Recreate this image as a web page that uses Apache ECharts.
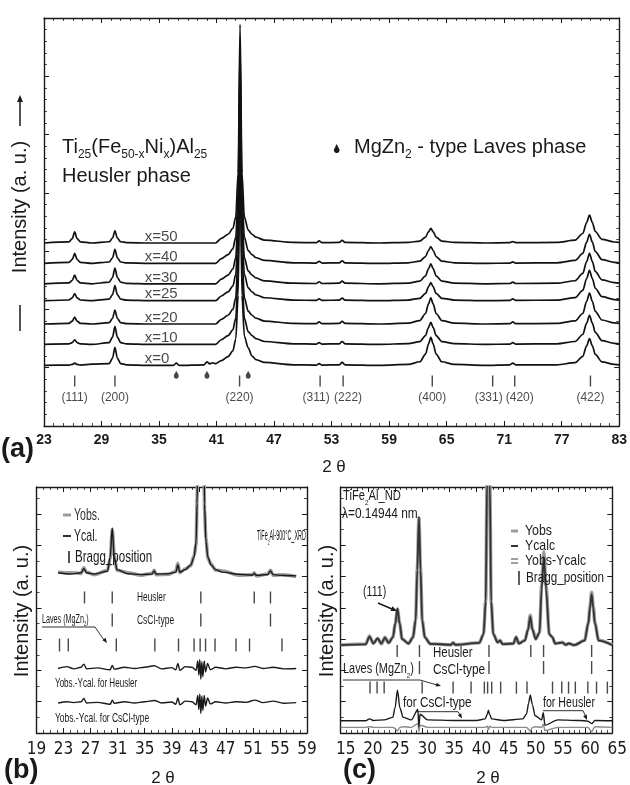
<!DOCTYPE html>
<html><head><meta charset="utf-8">
<script src="https://cdn.jsdelivr.net/npm/echarts@6/dist/echarts.min.js"></script>
<style>html,body{margin:0;padding:0;background:#fff}#c{width:630px;height:785px}</style>
</head><body><div id="c"></div><script>
// ---------- Panel (a): Ti25(Fe50-xNix)Al25 XRD patterns ----------
const twoThetaA = [23, 25.6, 25.95, 26.2, 26.45, 26.8, 28.0, 29.8, 30.15, 30.4, 30.65, 31.0, 31.6, 34.0,
  36.5, 36.8, 37.1, 39.7, 40.0, 40.3, 40.6, 40.9,
  41.5, 42.2, 42.7, 43.0, 43.25, 43.45, 43.65, 43.9, 44.3, 44.7, 45.1, 46.0, 49.0,
  51.4, 51.7, 52.0, 53.8, 54.1, 54.4, 58.0,
  61.0, 62.2, 62.8, 63.1, 63.35, 63.6, 63.9, 64.5, 65.8, 69.0, 71.6, 71.9, 72.2,
  76.5, 78.4, 79.2, 79.6, 79.9, 80.2, 80.5, 81.2, 82.5, 83];
const compositions = ['x=0', 'x=10', 'x=20', 'x=25', 'x=30', 'x=40', 'x=50'];
const offsetsA = [10.4, 14.0, 17.5, 21.5, 24.4, 27.9, 31.4];
const I_x0 = [0, 0.04,0.16,0.4,0.16,0.04, 0.2, 0.31,1.24,3.1,1.24,0.31,0.1, 0, 0,0.4,0, 0.1,0.6,0.25,0.45,0.3,
  0.8,1.5,2.5,4.5,12,37.5,12,5,3.0,1.6,1.0,0.5, 0.1, 0.05,0.3,0.05, 0.1,0.5,0.1, 0,
  0.17,0.62,1.92,3.65,4.8,3.65,1.92,0.62,0.17, 0, 0.1,0.4,0.1, 0.09,0.46,1.56,3.36,4.6,3.36,1.89,0.6,0.17,0.09];
const I_x10 = [0, 0.08,0.32,0.8,0.32,0.08, 0, 0.31,1.24,3.1,1.24,0.31,0.1, 0, 0,0,0, 0,0,0,0,0,
  0.8,1.5,2.5,4.5,12,37.5,12,4.5,2.2,1.5,1.0,0.5, 0.1, 0.05,0.3,0.05, 0.1,0.5,0.1, 0,
  0.13,0.49,1.52,2.89,3.8,2.89,1.52,0.49,0.13, 0, 0.05,0.3,0.05, 0.1,0.5,1.7,3.65,5.0,3.65,2.05,0.65,0.18,0.1];
const I_x20 = [0, 0.12,0.48,1.2,0.48,0.12, 0, 0.24,0.96,2.4,0.96,0.24,0.07, 0, 0,0,0, 0,0,0,0,0,
  0.8,1.5,2.5,4.5,12,37.5,12,4.5,2.2,1.5,1.0,0.5, 0.1, 0.05,0.35,0.05, 0.1,0.45,0.1, 0,
  0.16,0.59,1.8,3.42,4.5,3.42,1.8,0.59,0.16, 0, 0.05,0.35,0.05, 0.11,0.53,1.8,3.87,5.3,3.87,2.17,0.69,0.19,0.11];
const I_x25 = [0, 0.12,0.48,1.2,0.48,0.12, 0, 0.26,1.04,2.6,1.04,0.26,0.08, 0, 0,0,0, 0,0,0,0,0,
  0.8,1.5,2.5,4.5,12,37.5,12,4.5,2.2,1.5,1.0,0.5, 0.1, 0.05,0.3,0.05, 0.1,0.45,0.1, 0,
  0.11,0.4,1.24,2.36,3.1,2.36,1.24,0.4,0.11, 0, 0.05,0.3,0.05, 0.1,0.52,1.77,3.8,5.2,3.8,2.13,0.68,0.19,0.1];
const I_x30 = [0, 0.15,0.6,1.5,0.6,0.15, 0, 0.27,1.08,2.7,1.08,0.27,0.08, 0, 0,0,0, 0,0,0,0,0,
  0.8,1.5,2.5,4.5,12,37.5,12,4.5,2.2,1.5,1.0,0.5, 0.1, 0.05,0.35,0.05, 0.1,0.45,0.1, 0,
  0.12,0.44,1.36,2.58,3.4,2.58,1.36,0.44,0.12, 0, 0.05,0.3,0.05, 0.1,0.52,1.77,3.8,5.2,3.8,2.13,0.68,0.19,0.1];
const I_x40 = [0, 0.17,0.68,1.7,0.68,0.17, 0, 0.24,0.96,2.4,0.96,0.24,0.07, 0, 0,0,0, 0,0,0,0,0,
  0.8,1.5,2.5,4.5,12,37.5,12,4.5,2.2,1.5,1.0,0.5, 0.1, 0.05,0.35,0.05, 0.1,0.45,0.1, 0,
  0.1,0.38,1.16,2.2,2.9,2.2,1.16,0.38,0.1, 0, 0.05,0.25,0.05, 0.1,0.5,1.7,3.65,5.0,3.65,2.05,0.65,0.18,0.1];
const I_x50 = [0, 0.19,0.76,1.9,0.76,0.19, 0, 0.21,0.84,2.1,0.84,0.21,0.06, 0, 0,0,0, 0,0,0,0,0,
  0.8,1.5,2.5,4.5,12,37.5,12,4.5,2.2,1.5,1.0,0.5, 0.1, 0.05,0.35,0.05, 0.1,0.45,0.1, 0,
  0.09,0.33,1.0,1.9,2.5,1.9,1.0,0.33,0.09, 0, 0.05,0.25,0.05, 0.1,0.48,1.63,3.5,4.8,3.5,1.97,0.62,0.17,0.1];
const tracesA = [I_x0, I_x10, I_x20, I_x25, I_x30, I_x40, I_x50];
const hklNames = ['(111)', '(200)', '(220)', '(311)', '(222)', '(400)', '(331)', '(420)', '(422)'];
const hklPos = [26.2, 30.4, 43.4, 51.8, 54.2, 63.5, 69.8, 72.1, 80.0];
const lavesMarksA = [36.8, 40.0, 44.3];

// ---------- Panel (b): TiFe2Al-900°C XRD refinement ----------
const twoThetaB = [22.2, 24.0, 25.6, 26.0, 26.4, 27.5, 29.5, 29.9, 30.2, 30.5, 30.9, 32.5, 34.5, 36.1, 36.4, 36.7,
  38.5, 39.6, 39.9, 40.2, 41.0, 41.8, 42.3, 42.6, 42.75, 42.9, 43.3, 43.7, 43.85, 44.05, 44.35, 44.8, 45.5, 46.5,
  49.0, 50.9, 51.2, 51.5, 53.2, 53.6, 54.0, 55.5, 57.4];
const yCalB = [5.12, 5.08, 5.12, 5.25, 5.12, 5.08, 5.17, 5.62, 6.55, 5.62, 5.22, 5.09, 5.06, 5.08, 5.18, 5.08,
  5.09, 5.14, 5.37, 5.14, 5.22, 5.37, 5.62, 6.12, 7.32, 10.4, 25, 10.4, 7.32, 6.12, 5.62, 5.37, 5.22, 5.14,
  5.07, 5.04, 5.1, 5.04, 5.06, 5.18, 5.06, 5.03, 5.02];
const yObsB = [5.14, 5.12, 5.1, 5.28, 5.14, 5.06, 5.19, 5.58, 6.5, 5.66, 5.2, 5.12, 5.04, 5.1, 5.2, 5.06,
  5.07, 5.16, 5.42, 5.12, 5.24, 5.34, 5.66, 6.02, 7.52, 10.7, 26, 10.7, 7.12, 6.22, 5.58, 5.4, 5.2, 5.18,
  5.04, 5.06, 5.12, 5.02, 5.08, 5.2, 5.04, 5.06, 5.0];
const twoThetaBd = [22.2, 23.5, 24.5, 25.6, 26.0, 26.4, 28.0, 29.9, 30.2, 30.5, 32.0, 33.5, 35.0, 36.4, 37.5, 39.0,
  39.6, 39.9, 40.2, 41.0, 42.0, 42.6, 42.85, 43.0, 43.15, 43.3, 43.45, 43.6, 43.8, 44.0, 44.3, 44.7, 45.5,
  47.0, 48.5, 50.0, 51.3, 52.5, 54.0, 55.5, 57.4];
const diffHeuslerB = [2.06, 2.12, 2.05, 2.1, 2.2, 2.05, 2.08, 2.02, 2.16, 2.04, 2.1, 2.06, 2.1, 2.15, 2.05, 2.09,
  2.02, 2.22, 2.0, 2.12, 2.1, 2.0, 2.3, 1.85, 2.35, 1.72, 2.28, 1.8, 2.3, 1.95, 2.22, 2.02, 2.1,
  2.05, 2.1, 2.08, 2.13, 2.06, 2.1, 2.05, 2.06];
const diffCsClB = [0.96, 1.0, 0.97, 1.0, 1.1, 0.96, 0.98, 0.92, 1.05, 0.95, 1.0, 0.96, 1.0, 1.04, 0.96, 0.99,
  0.92, 1.12, 0.9, 1.02, 1.0, 0.9, 1.2, 0.75, 1.25, 0.62, 1.18, 0.72, 1.2, 0.86, 1.12, 0.93, 1.0,
  0.96, 1.0, 0.98, 1.05, 0.97, 1.02, 0.95, 0.97];
const braggHeuslerB = [26.1, 30.2, 43.3, 51.2, 53.6];
const braggCsClB = [30.2, 43.3, 53.6];
const braggLavesB = [22.4, 23.7, 30.8, 36.5, 40.0, 42.3, 43.2, 44.0, 45.4, 48.5, 50.5, 55.3];

// ---------- Panel (c): TiFe2Al neutron diffraction ----------
const twoThetaC = [15.0, 19.6, 20.3, 21.0, 21.8, 22.5, 23.15, 23.8, 24.6, 25.05, 25.45, 25.85, 26.3, 27.5, 28.3,
  28.8, 29.1, 29.4, 29.7, 30.0, 30.5, 31.5, 35.3, 35.7, 36.1, 40.5, 41.3, 41.7, 41.95, 42.2, 42.45, 42.7,
  43.1, 43.9, 44.35, 44.8, 46.8, 47.3, 47.8, 48.9, 49.5, 49.9, 50.3, 50.9, 51.6, 52.0, 52.4, 52.8, 53.4,
  53.95, 54.5, 55.8, 56.4, 57.0, 58.0, 59.9, 60.6, 60.9, 61.2, 61.5, 61.8, 62.5, 65.0];
const yCalcC = [2.81, 2.83, 3.08, 2.86, 3.02, 2.86, 3.05, 2.88, 3.05, 3.5, 3.98, 3.5, 3.0, 2.86, 3.05,
  3.6, 5.2, 6.9, 5.2, 3.6, 3.05, 2.85, 2.82, 2.88, 2.82, 2.88, 3.15, 4.2, 8.0, 18, 8.0, 4.2,
  3.15, 2.9, 2.95, 2.84, 2.86, 3.06, 2.86, 2.95, 3.3, 3.72, 3.3, 3.0, 3.2, 4.6, 5.63, 4.6, 3.15,
  3.06, 2.86, 2.89, 2.82, 2.86, 2.81, 2.95, 3.5, 4.0, 4.44, 4.0, 3.5, 2.95, 2.81];
const yObsC = [2.81, 2.84, 3.1, 2.86, 3.03, 2.85, 3.06, 2.88, 3.06, 3.48, 3.95, 3.52, 3.0, 2.86, 3.06,
  3.62, 5.25, 6.88, 5.25, 3.62, 3.06, 2.85, 2.82, 2.89, 2.82, 2.88, 3.16, 4.25, 8.1, 18, 8.05, 4.22,
  3.16, 2.9, 2.96, 2.84, 2.86, 3.07, 2.86, 2.96, 3.32, 3.76, 3.32, 3.0, 3.22, 4.72, 5.79, 4.7, 3.16,
  3.07, 2.86, 2.9, 2.82, 2.86, 2.81, 2.96, 3.52, 4.05, 4.5, 4.05, 3.52, 2.96, 2.81];
const twoThetaCd = [15.0, 19.6, 20.3, 21.0, 23.0, 24.6, 25.0, 25.45, 25.9, 26.5, 28.0, 29.2, 29.4, 29.6, 31.0,
  36.0, 40.0, 41.6, 42.0, 42.2, 42.4, 42.8, 45.0, 48.5, 49.2, 49.6, 49.9, 50.3, 50.8, 52.0, 52.3, 52.6,
  55.0, 58.5, 59.0, 60.5, 61.2, 61.8, 65.0];
const diffCsClC = [0.39, 0.39, 0.45, 0.40, 0.42, 0.5, 0.8, 1.37, 0.8, 0.5, 0.42, 0.75, 0.2, 0.6, 0.42,
  0.40, 0.40, 0.45, 0.6, 0.73, 0.6, 0.45, 0.40, 0.45, 0.6, 0.95, 1.21, 0.9, 0.55, 0.42, 0.65, 0.25,
  0.42, 0.40, 0.40, 0.38, 0.3, 0.40, 0.39];
const diffHeuslerC = [0.18, 0.18, 0.2, 0.18, 0.18, 0.18, 0.15, 0.06, 0.18, 0.2, 0.18, 0.3, 0.05, 0.25, 0.18,
  0.18, 0.18, 0.18, 0.22, 0.1, 0.22, 0.18, 0.18, 0.18, 0.18, 0.12, 0.05, 0.18, 0.2, 0.18, 0.28, 0.08,
  0.18, 0.18, 0.18, 0.18, 0.05, 0.2, 0.18];
const braggHeuslerC = [25.4, 29.5, 42.3, 50.0, 52.35, 61.2];
const braggCsClC = [29.5, 42.3, 52.35, 61.2];
const braggLavesC = [20.4, 21.7, 23.0, 30.0, 35.7, 39.0, 41.45, 42.05, 42.8, 44.45, 47.35, 49.3, 54.0, 55.7,
  56.95, 58.2, 60.5, 62.1, 64.1];

// ---------- build ----------
const SANS = '"Liberation Sans", Arial, sans-serif';
const NARROW = '"Liberation Sans Narrow", "DejaVu Sans Condensed", "Liberation Sans", sans-serif';
const INK = '#1a1a1a';
const zip = (xs, ys, off = 0) => xs.map((x, i) => [x, ys[i] + off]);

function xAx(grid, pos, min, max, interval, minor, label) {
  return {
    type: 'value', gridIndex: grid, position: pos, min, max, interval,
    axisLine: { show: true, onZero: false, lineStyle: { color: INK, width: 1.4 } },
    axisTick: { show: true, inside: true, length: 5, lineStyle: { color: INK, width: 1 } },
    minorTick: { show: true, splitNumber: minor, length: 3, lineStyle: { color: INK, width: 0.8 } },
    splitLine: { show: false }, minorSplitLine: { show: false },
    axisLabel: label ? Object.assign({ show: true, color: INK }, label) : { show: false }
  };
}
function yAx(grid, pos, min, max, interval, minor) {
  return {
    type: 'value', gridIndex: grid, position: pos, min, max, interval,
    axisLine: { show: true, onZero: false, lineStyle: { color: INK, width: 1.4 } },
    axisTick: { show: true, inside: true, length: 5, lineStyle: { color: INK, width: 1 } },
    minorTick: { show: true, splitNumber: minor, length: 3, lineStyle: { color: INK, width: 0.8 } },
    splitLine: { show: false }, minorSplitLine: { show: false },
    axisLabel: { show: false }
  };
}
function lineS(xi, yi, data, color, width) {
  return { type: 'line', xAxisIndex: xi, yAxisIndex: yi, data, symbol: 'none', showSymbol: false,
    smooth: 0.3, smoothMonotone: 'x', clip: true, silent: true, lineStyle: { color, width } };
}
function ticksS(xi, yi, xs, row, h) {
  return { type: 'scatter', xAxisIndex: xi, yAxisIndex: yi, symbol: 'rect', symbolSize: [1.4, h], silent: true,
    itemStyle: { color: INK }, data: xs.map(x => [x, row]) };
}

function txt(x, y, text, size, o = {}) {
  const style = { text, fill: o.color || INK, fontSize: size, fontFamily: o.family || SANS, fontWeight: o.weight || 'normal',
    align: o.align || 'left', textAlign: o.align || 'left', verticalAlign: 'middle', textVerticalAlign: 'middle' };
  if (o.rich) style.rich = o.rich;
  return { type: 'text', x, y, silent: true, z: 100, rotation: o.rot || 0, scaleX: o.sx || 1, scaleY: 1, style };
}
function richTxt(x, y, parts, size, o = {}) {
  const text = parts.map(([s, sub]) => '{' + (sub ? 's' : 'n') + '|' + s + '}').join('');
  const fam = o.family || SANS;
  const rich = {
    n: { fontSize: size, fontFamily: fam, fill: INK, verticalAlign: 'bottom', padding: [0, 0, Math.round(size * 0.2), 0] },
    s: { fontSize: Math.round(size * 0.58), fontFamily: fam, fill: INK, verticalAlign: 'bottom' }
  };
  return txt(x, y, text, size, Object.assign({}, o, { rich }));
}
function ln(x1, y1, x2, y2, w = 1.2, c = INK) {
  return { type: 'line', silent: true, z: 100, shape: { x1, y1, x2, y2 }, style: { stroke: c, lineWidth: w } };
}
function pl(points, w = 1, c = INK) {
  return { type: 'polyline', silent: true, z: 100, shape: { points }, style: { stroke: c, lineWidth: w, fill: null } };
}
function poly(points, c = INK) {
  return { type: 'polygon', silent: true, z: 100, shape: { points }, style: { fill: c } };
}
function head(x1, y1, x2, y2, len = 6, hw = 2.5, c = INK) {
  const dx = x2 - x1, dy = y2 - y1, L = Math.hypot(dx, dy), ux = dx / L, uy = dy / L;
  const bx = x2 - ux * len, by = y2 - uy * len;
  return poly([[x2, y2], [bx - uy * hw, by + ux * hw], [bx + uy * hw, by - ux * hw]], c);
}
const DROP = 'path://M5,0 C6,3 10,6 10,10 C10,13 8,15 5,15 C2,15 0,13 0,10 C0,6 4,3 5,0 Z';

const series = [];
// (a)
tracesA.forEach((tr, i) => series.push(lineS(0, 0, zip(twoThetaA, tr, offsetsA[i]), '#111', 1.7)));
series.push({ type: 'scatter', xAxisIndex: 0, yAxisIndex: 0, symbolSize: 0, silent: true,
  data: compositions.map((c, i) => [33.5, offsetsA[i] + 1.1]),
  label: { show: true, position: 'right', distance: 0, color: INK, fontSize: 15, fontFamily: SANS,
    formatter: p => compositions[p.dataIndex] } });
const hklShift = [0, 0, 0, -4, 5, 0, -4, 5, 0];
series.push({ type: 'scatter', xAxisIndex: 0, yAxisIndex: 0, symbol: 'rect', symbolSize: [1.4, 11], silent: true,
  itemStyle: { color: INK },
  data: hklPos.map((x, i) => ({ value: [x, 7.72], label: { offset: [hklShift[i], 0] } })),
  label: { show: true, position: 'bottom', distance: 5, color: INK, fontSize: 12, fontFamily: SANS,
    formatter: p => hklNames[p.dataIndex] } });
series.push({ type: 'scatter', xAxisIndex: 0, yAxisIndex: 0, symbol: DROP, symbolSize: [5, 8], silent: true,
  itemStyle: { color: INK }, data: lavesMarksA.map(x => [x, 8.8]) });
// (b)
series.push(lineS(2, 2, zip(twoThetaB, yObsB), '#9c9c9c', 3.5));
series.push(lineS(2, 2, zip(twoThetaB, yCalB), INK, 1.4));
series.push(lineS(2, 2, zip(twoThetaBd, diffHeuslerB), INK, 1.4));
series.push(lineS(2, 2, zip(twoThetaBd, diffCsClB), INK, 1.4));
series.push(ticksS(2, 2, braggHeuslerB, 4.33, 12));
series.push(ticksS(2, 2, braggCsClB, 3.61, 13));
series.push(ticksS(2, 2, braggLavesB, 2.81, 13));
// (c)
series.push(lineS(4, 4, zip(twoThetaC, yObsC), '#9c9c9c', 3.5));
series.push(lineS(4, 4, zip(twoThetaC, yCalcC), '#333', 1.8));
series.push(lineS(4, 4, zip(twoThetaCd, diffHeuslerC), '#8a8a8a', 1.4));
series.push(lineS(4, 4, zip(twoThetaCd, diffCsClC), INK, 1.4));
series.push(ticksS(4, 4, braggHeuslerC, 2.62, 12));
series.push(ticksS(4, 4, braggCsClC, 2.09, 13));
series.push(ticksS(4, 4, braggLavesC, 1.45, 12));

const labA = { fontSize: 14, fontWeight: 'bold', fontFamily: SANS, margin: 7 };
const labB = { fontSize: 17, fontFamily: NARROW, margin: 8 };
const labC = { fontSize: 17, fontFamily: NARROW, margin: 8, padding: [0, 0, 0, 10] };

const dropPts = [[336.7,144],[338.2,147],[339.4,149.5],[339.5,150.8],[338.8,152.3],[336.7,153.2],[334.6,152.3],[333.9,150.8],[334.0,149.5],[335.2,147]];

const graphic = [
  // (a)
  richTxt(62, 149, [['Ti'], ['25', 1], ['(Fe'], ['50-x', 1], ['Ni'], ['x', 1], [')Al'], ['25', 1]], 20),
  txt(62, 176, 'Heusler phase', 20),
  poly(dropPts),
  richTxt(354, 149, [['MgZn'], ['2', 1], [' - type Laves phase']], 20),
  txt(20, 207, 'Intensity (a. u.)', 20, { rot: Math.PI / 2, align: 'center' }),
  ln(20, 305, 20, 331, 1.5),
  ln(20, 126, 20, 100, 1.5), head(20, 126, 20, 95, 7, 3),
  txt(1, 450, '(a)', 27, { weight: 'bold' }),
  txt(334, 467, '2 θ', 17, { align: 'center' }),
  // (b)
  txt(22, 611, 'Intensity (a. u.)', 20, { rot: Math.PI / 2, align: 'center' }),
  ln(63, 515, 71, 515, 3, '#9c9c9c'), txt(74, 515, 'Yobs.', 17, { sx: 0.62, color: '#333' }),
  ln(63, 536, 71, 536, 1.8), txt(74, 536, 'Ycal.', 17, { sx: 0.62 }),
  ln(69, 551, 69, 563, 1.5), txt(75, 557, 'Bragg_position', 17, { sx: 0.68 }),
  richTxt(257, 538, [['TiFe'], ['2', 1], ['Al-900°C_XRD']], 14, { sx: 0.39 }),
  txt(137, 597, 'Heusler', 13, { sx: 0.64 }),
  txt(137, 620, 'CsCl-type', 13, { sx: 0.65 }),
  richTxt(42, 621, [['Laves (MgZn'], ['2', 1], [')']], 12, { sx: 0.6 }),
  pl([[42, 627], [95, 627]], 0.9), ln(95, 627, 104, 640, 0.9), head(95, 627, 107, 643, 5, 2),
  txt(55, 683, 'Yobs.-Ycal. for Heusler', 13, { sx: 0.62 }),
  txt(55, 718, 'Yobs.-Ycal. for CsCl-type', 13, { sx: 0.65 }),
  txt(4, 771, '(b)', 27, { weight: 'bold' }),
  txt(163, 778, '2 θ', 17, { align: 'center' }),
  // (c)
  txt(327, 611, 'Intensity (a. u.)', 20, { rot: Math.PI / 2, align: 'center' }),
  richTxt(343, 498, [['TiFe'], ['2', 1], ['Al_ND']], 14, { sx: 0.8 }),
  txt(342, 514, 'λ=0.14944 nm', 14, { sx: 0.85 }),
  ln(511, 531, 518, 531, 3, '#9c9c9c'), txt(525, 531, 'Yobs', 15, { sx: 0.82 }),
  ln(511, 546, 518, 546, 2, '#333'), txt(525, 546, 'Ycalc', 15, { sx: 0.82 }),
  ln(511, 559, 518, 559, 1.4, '#777'), ln(511, 563, 518, 563, 1.4, '#777'), txt(525, 561, 'Yobs-Ycalc', 15, { sx: 0.82 }),
  ln(519, 571, 519, 585, 1.4), txt(526, 578, 'Bragg_position', 15, { sx: 0.78 }),
  txt(363, 592, '(111)', 14, { sx: 0.76 }),
  ln(378, 603, 392, 609, 1.4), head(378, 603, 397, 611, 6, 2.5),
  txt(433, 653, 'Heusler', 14, { sx: 0.82 }),
  txt(433, 670, 'CsCl-type', 14, { sx: 0.85 }),
  richTxt(343, 671, [['Laves (MgZn'], ['2', 1], [')']], 14, { sx: 0.78 }),
  pl([[343, 680], [420, 680], [437, 685]], 0.9), head(420, 680, 441, 686, 5, 2),
  txt(403, 703, 'for CsCl-type', 14, { sx: 0.84 }),
  pl([[416, 711.7], [458, 711.7], [460.5, 715.5]], 0.9), head(458, 711.7, 462, 718.5, 5, 2),
  txt(543, 703, 'for Heusler', 14, { sx: 0.76 }),
  pl([[543, 710.7], [583, 710.7], [585.5, 716]], 0.9), head(583, 710.7, 587, 720, 5, 2),
  txt(343, 771, '(c)', 27, { weight: 'bold' }),
  txt(488, 778, '2 θ', 17, { align: 'center' })
];

const option = {
  animation: false,
  backgroundColor: '#fff',
  grid: [
    { left: 44, top: 18, width: 576, height: 408 },
    { left: 36.5, top: 487, width: 270.5, height: 246 },
    { left: 340.7, top: 487, width: 276, height: 246 }
  ],
  xAxis: [
    xAx(0, 'bottom', 23, 83, 6, 6, labA), xAx(0, 'top', 23, 83, 6, 6, null),
    xAx(1, 'bottom', 19, 59, 4, 4, labB), xAx(1, 'top', 19, 59, 4, 4, null),
    xAx(2, 'bottom', 15, 65, 5, 5, labC), xAx(2, 'top', 15, 65, 5, 5, null)
  ],
  yAxis: [
    yAx(0, 'left', 0, 70, 10, 5), yAx(0, 'right', 0, 70, 10, 5),
    yAx(1, 'left', 0, 7.86, 1, 2), yAx(1, 'right', 0, 7.86, 1, 2),
    yAx(2, 'left', 0, 7.86, 1, 2), yAx(2, 'right', 0, 7.86, 1, 2)
  ],
  series,
  graphic
};
const chart = echarts.init(document.getElementById('c'), null, { renderer: 'canvas' });
chart.setOption(option);
</script></body></html>
